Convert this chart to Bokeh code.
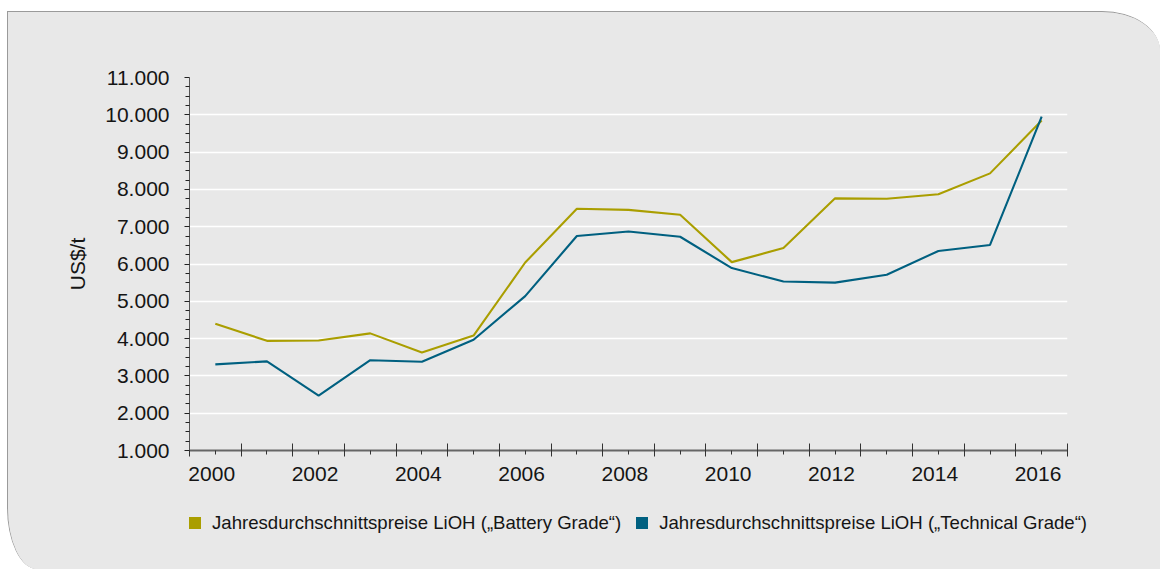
import numpy as np
from bokeh.plotting import figure
from bokeh.layouts import column
from bokeh.models import (LinearAxis, FixedTicker, Range1d, Legend, LegendItem, Grid)
from bokeh.embed import file_html
from bokeh.resources import INLINE

# ---------------- data ----------------
years = list(range(2000, 2017))
battery_grade = [4400, 3940, 3950, 4140, 3630, 4080, 6040, 7480, 7450, 7320,
                 6050, 6430, 7760, 7750, 7870, 8430, 9850]
technical_grade = [3310, 3390, 2470, 3420, 3380, 3970, 5140, 6750, 6870, 6730,
                   5890, 5530, 5500, 5710, 6350, 6510, 9950]
series_names = ["Jahresdurchschnittspreise LiOH (\u201eBattery Grade\u201c)",
                "Jahresdurchschnittspreise LiOH (\u201eTechnical Grade\u201c)"]
x_label_years = [2000, 2002, 2004, 2006, 2008, 2010, 2012, 2014, 2016]
x_tick_labels = ["2000", "2002", "2004", "2006", "2008", "2010", "2012", "2014", "2016"]
y_ticks = [1000, 2000, 3000, 4000, 5000, 6000, 7000, 8000, 9000, 10000, 11000]
y_tick_labels = ["1.000", "2.000", "3.000", "4.000", "5.000", "6.000",
                 "7.000", "8.000", "9.000", "10.000", "11.000"]
y_axis_title = "US$/t"

# ---------------- style ----------------
OLIVE = "#aa9e00"
BLUE = "#006080"
BG = "#e8e8e8"
TXT = "#151515"
FONT = "Liberation Sans"
LABEL_SHIFT = -0.07            # year labels sit slightly left of the category centre
OX, OY = 8, 12                 # content origin of the card in page pixels
W = 1160 - OX
H_TOTAL = 569 - OY
H1 = 488                       # main chart part
H2 = H_TOTAL - H1              # legend part

p = figure(width=W, height=H1, output_backend="svg", toolbar_location=None,
           x_range=Range1d(years[0] - 0.5, years[-1] + 0.5),
           y_range=Range1d(y_ticks[0], y_ticks[-1]),
           x_axis_location=None, y_axis_location=None,
           min_border_left=189 - OX, min_border_right=OX + W - 1067,
           min_border_top=77 - OY, min_border_bottom=OY + H1 - 450)
p.frame_align = False
p.background_fill_color = BG
p.border_fill_color = BG
p.outline_line_color = None
p.xgrid.visible = False
p.ygrid.visible = False

# horizontal grid
p.add_layout(Grid(dimension=1, ticker=FixedTicker(ticks=y_ticks),
                  grid_line_color="white", grid_line_width=1.3))
# right frame edge line
p.add_layout(Grid(dimension=0, ticker=FixedTicker(ticks=[years[-1] + 0.5]),
                  grid_line_color="white", grid_line_width=1.5))

# y axis
yminor = [float(v) for v in np.arange(y_ticks[0], y_ticks[-1] + 1, 250) if v not in y_ticks]
yax = LinearAxis(ticker=FixedTicker(ticks=y_ticks, minor_ticks=yminor),
                 major_label_overrides={t: l for t, l in zip(y_ticks, y_tick_labels)},
                 axis_label=y_axis_title)
yax.axis_line_color = "#555555"
yax.major_tick_line_color = "#222222"
yax.minor_tick_line_color = "#222222"
yax.major_tick_in = 0
yax.major_tick_out = 5
yax.minor_tick_in = 0
yax.minor_tick_out = 4
yax.major_label_standoff = 15
yax.major_label_text_font = FONT
yax.major_label_text_font_size = "21px"
yax.major_label_text_color = TXT
yax.axis_label_text_font = FONT
yax.axis_label_text_font_size = "21px"
yax.axis_label_text_font_style = "normal"
yax.axis_label_text_color = TXT
yax.axis_label_standoff = 13
p.add_layout(yax, "left")

# x axis: boundary ticks (long) + centre ticks (short)
bounds = [y - 0.5 for y in years] + [years[-1] + 0.5]
xax = LinearAxis(ticker=FixedTicker(ticks=bounds, minor_ticks=years),
                 major_label_overrides={b: " " for b in bounds})
xax.axis_line_color = "#666666"
xax.axis_line_width = 2
xax.major_tick_line_color = "#333333"
xax.minor_tick_line_color = "#333333"
xax.major_tick_in = 7
xax.major_tick_out = 6
xax.minor_tick_in = 0
xax.minor_tick_out = 4
xax.major_label_text_font_size = "1px"
xax.major_label_standoff = 0
p.add_layout(xax, "below")

# x axis labels at year centres
label_pos = [y + LABEL_SHIFT for y in x_label_years]
xlab = LinearAxis(ticker=FixedTicker(ticks=label_pos, minor_ticks=[]),
                  major_label_overrides={t: l for t, l in zip(label_pos, x_tick_labels)})
xlab.axis_line_color = None
xlab.major_tick_line_color = None
xlab.minor_tick_line_color = None
xlab.major_tick_in = 0
xlab.major_tick_out = 0
xlab.major_label_standoff = 6
xlab.major_label_text_font = FONT
xlab.major_label_text_font_size = "21px"
xlab.major_label_text_color = TXT
p.add_layout(xlab, "below")

# lines
p.line(years, battery_grade, line_color=OLIVE, line_width=2.1)
p.line(years, technical_grade, line_color=BLUE, line_width=2.1)

# ---------------- legend part ----------------
p2 = figure(width=W, height=H2, output_backend="svg", toolbar_location=None,
            x_range=Range1d(0, 1), y_range=Range1d(0, 1),
            x_axis_location=None, y_axis_location=None,
            min_border_left=0, min_border_right=0, min_border_top=0, min_border_bottom=0)
p2.frame_align = False
p2.background_fill_color = BG
p2.border_fill_color = BG
p2.outline_line_color = None
p2.xgrid.visible = False
p2.ygrid.visible = False
s1 = p2.rect(x=[float("nan")], y=[float("nan")], width=1, height=1,
             fill_color=OLIVE, line_color=None)
s2 = p2.rect(x=[float("nan")], y=[float("nan")], width=1, height=1,
             fill_color=BLUE, line_color=None)
legend = Legend(items=[LegendItem(label=series_names[0], renderers=[s1]),
                       LegendItem(label=series_names[1], renderers=[s2])],
                orientation="horizontal",
                location=(187 - OX, OY + H1 + H2 - 533.5))
legend.background_fill_alpha = 0
legend.border_line_color = None
legend.label_text_font = FONT
legend.label_text_font_size = "18.6px"
legend.label_text_color = TXT
legend.glyph_width = 15
legend.glyph_height = 15
legend.label_standoff = 10
legend.spacing = 13
legend.padding = 0
legend.margin = 0
p2.add_layout(legend)

card = column(p, p2, spacing=0, margin=(11, 0, 0, 7),
              styles={"border-top": "1px solid #9a9a9a",
                      "border-left": "1px solid #9a9a9a",
                      "border-top-right-radius": "58px 40px",
                      "border-bottom-left-radius": "30px 62px",
                      "overflow": "hidden", "background-color": BG})

open("out.html", "w").write(file_html(card, INLINE))
